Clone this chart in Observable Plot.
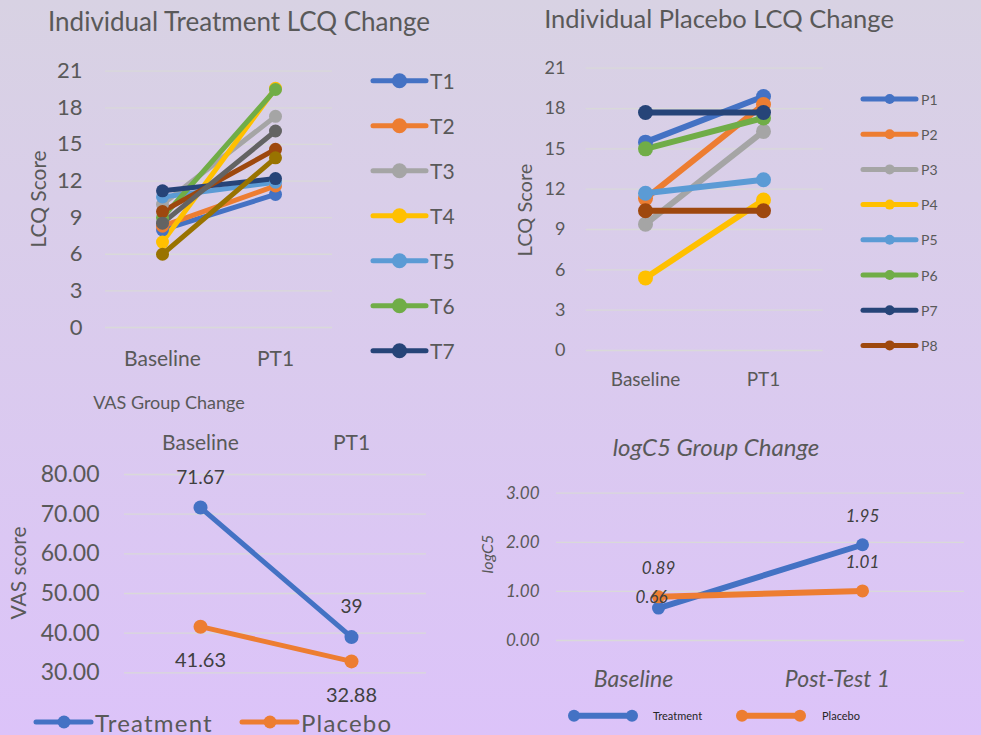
<!DOCTYPE html>
<html><head><meta charset="utf-8">
<script src="https://cdn.jsdelivr.net/npm/d3@7"></script>
<script src="https://cdn.jsdelivr.net/npm/@observablehq/plot@0.6"></script>
<style>
body{margin:0;}
#root{position:relative;width:981px;height:735px;overflow:hidden;background:linear-gradient(#D8D2E3,#DCC3F9);}
</style></head>
<body><div id="root"></div>
<script>
// ---------- data ----------
const timepoints = ["Baseline", "PT1"];
const treatmentIds = ["T1","T2","T3","T4","T5","T6","T7","T8","T9","T10"];
const treatmentBaseline = [8.0, 8.3, 10.1, 7.0, 10.7, 9.0, 11.2, 9.5, 8.55, 6.0];
const treatmentPT1      = [10.9, 11.6, 17.3, 19.6, 11.9, 19.5, 12.2, 14.6, 16.1, 13.9];
const treatmentLegend = ["T1","T2","T3","T4","T5","T6","T7"];

const placeboIds = ["P1","P2","P3","P4","P5","P6","P7","P8"];
const placeboBaseline = [15.5, 11.3, 9.4, 5.4, 11.7, 15.0, 17.7, 10.4];
const placeboPT1      = [18.9, 18.3, 16.3, 11.2, 12.7, 17.3, 17.7, 10.4];
const lcqTicks = [0, 3, 6, 9, 12, 15, 18, 21];

const groups = ["Treatment", "Placebo"];
const vasBaseline = [71.67, 41.63];
const vasPT1 = [39, 32.88];
const vasTicks = [30, 40, 50, 60, 70, 80];

const logTimepoints = ["Baseline", "Post-Test 1"];
const logBaseline = [0.66, 0.89];
const logPost = [1.95, 1.01];
const logTicks = [0, 1, 2, 3];

// ---------- styles ----------
const FONT = "Lato, 'Open Sans', sans-serif";
const TXT = "#595959";
const palette = ["#4472C4","#ED7D31","#A5A5A5","#FFC000","#5B9BD5","#70AD47","#264478","#9E480E","#636363","#997300"];
const groupColors = ["#4472C4", "#ED7D31"];
const GRID = "#D9D9D9";

const root = document.getElementById("root");
function place(node, left, top) {
  node.style.position = "absolute";
  node.style.left = left + "px";
  node.style.top = top + "px";
  root.appendChild(node);
}
const baseStyle = {background: "transparent", fontFamily: FONT, color: TXT, overflow: "visible"};

// ---------- chart 1: treatment ----------
const tData = treatmentIds.flatMap((id, i) => [
  {id, t: timepoints[0], v: treatmentBaseline[i]},
  {id, t: timepoints[1], v: treatmentPT1[i]}
]);
place(Plot.plot({
  width: 490, height: 420,
  marginLeft: 105, marginRight: 158, marginTop: 70.7, marginBottom: 93,
  style: baseStyle,
  x: {type: "point", domain: timepoints, padding: 0.5, axis: null},
  y: {domain: [0, 21], axis: null},
  color: {domain: treatmentIds, range: palette},
  marks: [
    Plot.ruleY(lcqTicks, {stroke: GRID, strokeWidth: 1.3}),
    Plot.axisY(lcqTicks, {tickSize: 0, tickPadding: 23, fontSize: 22, label: null, fill: TXT}),
    Plot.axisX({tickSize: 0, tickPadding: 24, fontSize: 21, label: null, fill: TXT}),
    Plot.line(tData, {x: "t", y: "v", z: "id", stroke: "id", strokeWidth: 5}),
    Plot.dot(tData, {x: "t", y: "v", fill: "id", r: 6.5})
  ]
}), 0, 0);

// ---------- chart 2: placebo ----------
const pData = placeboIds.flatMap((id, i) => [
  {id, t: timepoints[0], v: placeboBaseline[i]},
  {id, t: timepoints[1], v: placeboPT1[i]}
]);
place(Plot.plot({
  width: 491, height: 420,
  marginLeft: 95.7, marginRight: 158.3, marginTop: 67.7, marginBottom: 70,
  style: baseStyle,
  x: {type: "point", domain: timepoints, padding: 0.5, axis: null},
  y: {domain: [0, 21], axis: null},
  color: {domain: placeboIds, range: palette.slice(0, 8)},
  marks: [
    Plot.ruleY(lcqTicks, {stroke: GRID, strokeWidth: 1.3}),
    Plot.axisY(lcqTicks, {tickSize: 0, tickPadding: 20.7, fontSize: 18, label: null, fill: TXT}),
    Plot.axisX({tickSize: 0, tickPadding: 21.5, fontSize: 19, label: null, fill: TXT}),
    Plot.line(pData, {x: "t", y: "v", z: "id", stroke: "id", strokeWidth: 6}),
    Plot.dot(pData, {x: "t", y: "v", fill: "id", r: 7.5})
  ]
}), 490, 0);

// ---------- chart 3: VAS ----------
const vData = groups.flatMap((g, i) => [
  {g, t: timepoints[0], v: vasBaseline[i]},
  {g, t: timepoints[1], v: vasPT1[i]}
]);
place(Plot.plot({
  width: 490, height: 355,
  marginLeft: 124, marginRight: 64, marginTop: 94, marginBottom: 62.7,
  style: baseStyle,
  x: {type: "point", domain: timepoints, padding: 0.5, axis: null},
  y: {domain: [30, 80], axis: null},
  color: {domain: groups, range: groupColors},
  marks: [
    Plot.ruleY(vasTicks, {stroke: GRID, strokeWidth: 1.3}),
    Plot.axisY(vasTicks, {tickSize: 0, tickPadding: 25, fontSize: 23, label: null, fill: TXT, tickFormat: d3.format(".2f")}),
    Plot.axisX({anchor: "top", tickSize: 0, tickPadding: 25, fontSize: 21, label: null, fill: TXT}),
    Plot.line(vData, {x: "t", y: "v", z: "g", stroke: "g", strokeWidth: 5}),
    Plot.dot(vData, {x: "t", y: "v", fill: "g", r: 7}),
    Plot.text(vData.filter(d => d.g === groups[0]), {x: "t", y: "v", text: d => String(d.v), dy: -30, fontSize: 19, fill: "#404040"}),
    Plot.text(vData.filter(d => d.g === groups[1]), {x: "t", y: "v", text: d => String(d.v), dy: 34, fontSize: 20, fill: "#404040"})
  ]
}), 0, 380);

// ---------- chart 4: logC5 ----------
const lData = groups.flatMap((g, i) => [
  {g, t: logTimepoints[0], v: logBaseline[i]},
  {g, t: logTimepoints[1], v: logPost[i]}
]);
const f2 = d3.format(".2f");
place(Plot.plot({
  width: 491, height: 315,
  marginLeft: 66, marginRight: 17, marginTop: 72.7, marginBottom: 95,
  style: baseStyle,
  x: {type: "point", domain: logTimepoints, padding: 0.5, axis: null},
  y: {domain: [0, 3], axis: null},
  color: {domain: groups, range: groupColors},
  marks: [
    Plot.ruleY(logTicks, {stroke: GRID, strokeWidth: 1.3}),
    Plot.axisY(logTicks, {tickSize: 0, tickPadding: 17, fontSize: 17, label: null, fill: TXT, fontStyle: "italic", tickFormat: f2}),
    Plot.axisX({tickSize: 0, tickPadding: 30, dx: -25, fontSize: 23, label: null, fill: TXT, fontStyle: "italic"}),
    Plot.line(lData, {x: "t", y: "v", z: "g", stroke: "g", strokeWidth: 6}),
    Plot.dot(lData, {x: "t", y: "v", fill: "g", r: 6.5}),
    Plot.text(lData.filter((d, i) => i !== 0), {x: "t", y: "v", text: d => f2(d.v), dy: -28, fontSize: 17, fontStyle: "italic", fill: "#404040"}),
    Plot.text(lData.filter((d, i) => i === 0), {x: "t", y: "v", text: d => f2(d.v), dy: -11, dx: -7, fontSize: 17, fontStyle: "italic", fill: "#404040"})
  ]
}), 490, 420);

// ---------- titles, axis titles, legends ----------
const ov = d3.create("svg").attr("width", 981).attr("height", 735)
  .style("position", "absolute").style("left", "0px").style("top", "0px")
  .style("font-family", FONT).style("pointer-events", "none").style("overflow", "hidden");
function label(x, y, text, size, o = {}) {
  ov.append("text").attr("x", x).attr("y", y).attr("font-size", size)
    .attr("fill", o.fill || TXT).attr("text-anchor", o.anchor || "middle")
    .attr("dominant-baseline", "central")
    .attr("font-style", o.italic ? "italic" : null)
    .attr("letter-spacing", o.spacing || null)
    .attr("transform", o.rotate ? `rotate(-90 ${x} ${y})` : null)
    .text(text);
}
label(239, 21, "Individual Treatment LCQ Change", 26);
label(719, 18, "Individual Placebo LCQ Change", 25.5);
label(169, 402, "VAS Group Change", 18);
label(716, 446, "logC5 Group Change", 24, {italic: true});
label(37, 199, "LCQ Score", 21, {rotate: true});
label(524, 210, "LCQ Score", 20, {rotate: true});
label(17, 573, "VAS score", 21, {rotate: true});
label(486, 554, "logC5", 16, {italic: true, rotate: true});

function legendItem(x1, x2, y, color, w, r, dots, text, tx, size, fill, spacing) {
  ov.append("line").attr("x1", x1).attr("x2", x2).attr("y1", y).attr("y2", y)
    .attr("stroke", color).attr("stroke-width", w).attr("stroke-linecap", "round");
  dots.forEach(dx => ov.append("circle").attr("cx", dx).attr("cy", y).attr("r", r).attr("fill", color));
  label(tx, y, text, size, {anchor: "start", fill, spacing});
}
treatmentLegend.forEach((id, i) => {
  const y = 80.7 + 45 * i;
  legendItem(373, 426, y, palette[treatmentIds.indexOf(id)], 5, 7.5, [399.5], id, 430, 21, TXT);
});
placeboIds.forEach((id, i) => {
  const y = 99 + 35.2 * i;
  legendItem(863, 916, y, palette[i], 5, 5, [889.7], id, 921, 14, TXT);
});
groups.forEach((g, i) => {
  const x0 = [36, 242][i];
  legendItem(x0, x0 + 55, 722, groupColors[i], 5, 6.5, [x0 + 28], g, x0 + 59, 24, TXT, 1.2);
});
groups.forEach((g, i) => {
  const x0 = [574, 742][i];
  legendItem(x0, x0 + 58, 715.7, groupColors[i], 6, 6, [x0, x0 + 58], g, [653, 822][i], 11, "#262626");
});
root.appendChild(ov.node());
</script>
</body></html>
